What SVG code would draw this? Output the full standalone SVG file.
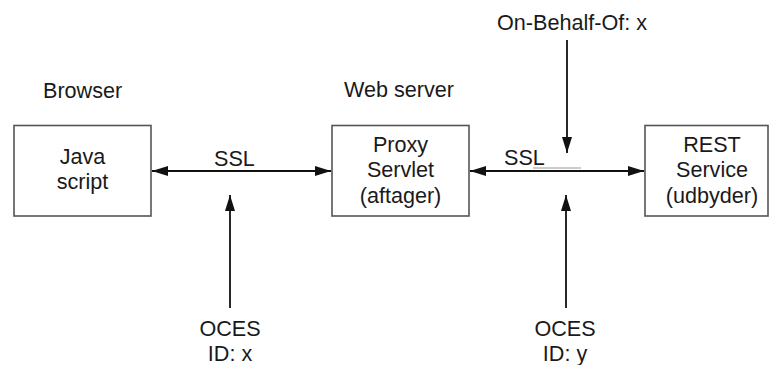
<svg xmlns="http://www.w3.org/2000/svg" width="771" height="365" viewBox="0 0 771 365">
<defs>
<style>
text{font-family:"Liberation Sans",Arial,sans-serif;font-size:21.6px;fill:#1a1a1a}
.c{text-anchor:middle}
.box{fill:#fff;stroke:#555;stroke-width:1.6}
.ln{stroke:#111;stroke-width:1.8;fill:none}
</style>
<marker id="ah" viewBox="0 0 16 10" refX="16" refY="5" markerWidth="16" markerHeight="10" markerUnits="userSpaceOnUse" orient="auto-start-reverse">
<path d="M0,0 L16,5 L0,10 Z" fill="#111"/>
</marker>
</defs>
<rect width="771" height="365" fill="#fff"/>
<text x="43" y="98">Browser</text>
<text x="344" y="97">Web server</text>
<text x="497" y="30">On-Behalf-Of: x</text>
<g id="connectors">
<line class="ln" x1="152" y1="171" x2="331" y2="171" marker-start="url(#ah)" marker-end="url(#ah)"/>
<line class="ln" x1="470" y1="171" x2="644" y2="171" marker-start="url(#ah)" marker-end="url(#ah)"/>
<line x1="533" y1="168" x2="581" y2="168" stroke="#999" stroke-width="1"/>
<line class="ln" x1="567" y1="40" x2="567" y2="153" marker-end="url(#ah)"/>
<line class="ln" x1="566" y1="308" x2="566" y2="195" marker-end="url(#ah)"/>
<line class="ln" x1="230" y1="308" x2="230" y2="195" marker-end="url(#ah)"/>
<text x="214" y="166">SSL</text>
<text x="504" y="165">SSL</text>
</g>
<g id="java">
<rect class="box" x="14" y="125.5" width="137" height="90.5"/>
<text class="c" x="82.5" y="164">Java</text>
<text class="c" x="82.5" y="189">script</text>
</g>
<g id="proxy">
<rect class="box" x="332" y="125.5" width="137" height="90.5"/>
<text class="c" x="400.5" y="152">Proxy</text>
<text class="c" x="400.5" y="177">Servlet</text>
<text class="c" x="400.5" y="203">(aftager)</text>
</g>
<g id="rest">
<rect class="box" x="645" y="125.5" width="123" height="90.5"/>
<text class="c" x="712" y="152">REST</text>
<text class="c" x="712" y="177">Service</text>
<text class="c" x="712" y="203">(udbyder)</text>
</g>
<g id="oces1">
<text class="c" x="230" y="336">OCES</text>
<text class="c" x="230" y="361">ID: x</text>
</g>
<g id="oces2">
<text class="c" x="565" y="336">OCES</text>
<text class="c" x="565" y="361">ID: y</text>
</g>
</svg>
